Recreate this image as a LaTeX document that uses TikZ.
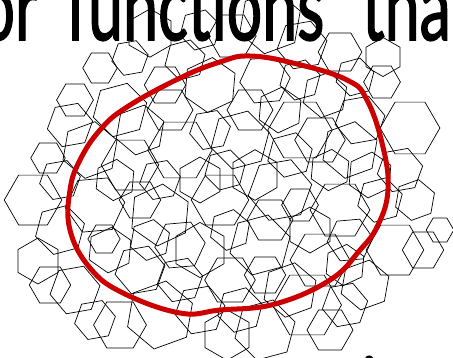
\documentclass[tikz,border=0pt]{standalone}
\usepackage{fontspec}
\setmainfont{Lato}
\newfontfamily\headfont{Lato}[FakeBold=1.8]
\usetikzlibrary{shapes.geometric}
\definecolor{blobred}{RGB}{204,0,0}

\begin{document}
\begin{tikzpicture}[
  x=1pt,y=-1pt,
  hexa/.style={draw,regular polygon,regular polygon sides=6,
               inner sep=0pt,line width=0.7pt},
  blob/.style={draw=blobred,line width=5pt,line join=round},
  bigtxt/.style={font=\headfont\fontsize{95}{95}\selectfont,inner sep=0pt,
                 xscale=0.66,transform shape},
  lowtxt/.style={font=\headfont\fontsize{60}{60}\selectfont,inner sep=0pt}
]
\useasboundingbox (0,0) rectangle (453,357);
\clip (0,0) rectangle (453,357);

%% texts
\node[bigtxt,anchor=base east] (wordor)  at (38,40)  {or};
\node[bigtxt,anchor=base west] (wordfun) at (66,40)  {functions};
\node[bigtxt,anchor=base west] (wordtha) at (362,40) {tha};
\node[lowtxt,anchor=base west] (footline) at (288,400) {tati};

%% hexagons: x / y / radius / turn
\foreach \hx/\hy/\hr/\ha [count=\k] in {
  100/68/15/0, 130/58/16/10, 150/33/21/30, 185/60/18/15, 232/36/21/0,
  270/22/28/20, 302/45/22/10, 340/52/19/0, 383/57/17/30, 355/77/17/15,
  382/82/16/0, 410/128/26/0, 325/95/20/20, 265/80/22/5, 210/85/24/25,
  75/100/16/0, 70/125/20/10, 48/158/15/0, 90/150/25/20, 33/200/25/0,
  38/261/20/30, 60/230/22/15, 95/205/26/5, 130/165/25/0, 110/250/20/25,
  75/290/22/10, 180/150/28/0, 240/140/26/15, 300/130/28/0, 350/150/25/20,
  160/215/27/25, 220/200/25/0, 280/190/28/10, 340/210/26/0, 200/250/24/30,
  260/245/27/15, 320/260/26/0, 140/270/22/10, 230/280/22/0, 290/290/24/20,
  170/110/20/0, 300/80/18/15, 380/200/20/15, 395/250/25/0, 423/250/18/0,
  365/285/22/20, 400/170/20/10, 120/325/23/0, 160/315/30/20, 200/310/22/10,
  227/335/22/30, 265/330/27/15, 307/305/30/0, 345/305/20/10, 120/110/24/15,
  200/180/20/30, 250/110/20/0, 330/170/18/25, 270/220/20/0, 180/280/20/10,
  104/239/14/0, 150/240/18/20, 310/230/20/30, 360/120/22/10, 230/230/18/20,
  60/180/18/10, 140/200/18/0, 290/155/20/15, 210/130/18/10, 350/240/20/5,
  50/285/18/0, 95/320/18/10, 140/130/22/20, 255/175/22/30, 320/140/22/0,
  370/175/20/25, 180/245/22/5, 240/310/20/15, 330/330/20/0, 415/200/18/20,
  440/230/12/0, 115/180/18/25, 200/30/18/15, 165/85/18/0, 280/110/20/25,
  225/170/18/15, 300/205/16/0, 345/265/18/25, 265/275/18/0, 160/180/18/10}
  \node[hexa,minimum size=2.3*\hr,rotate=\ha] (hex\k) at (\hx,\hy) {};

%% red outline
\draw[blob] plot[smooth cycle,tension=0.7] coordinates {
  (250,56) (297,64) (347,80) (367,100) (383,147) (388,190) (378,225)
  (360,250) (330,280) (275,304) (220,310) (180,313) (123,293) (90,268)
  (70,230) (70,190) (80,160) (100,130) (127,107) (180,78) (220,62)};
\end{tikzpicture}
\end{document}
